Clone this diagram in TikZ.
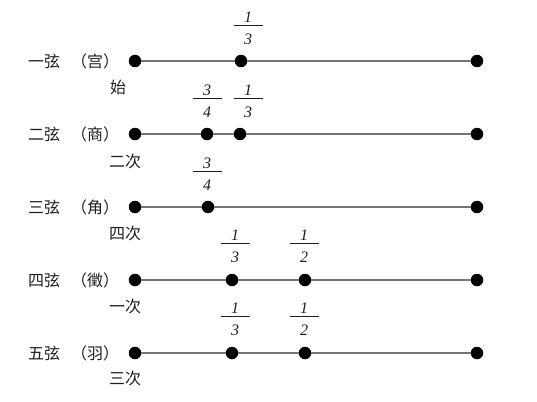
\documentclass[tikz,border=0pt]{standalone}
\usepackage{fontspec}
\setmainfont{Liberation Serif}
\newfontfamily\cjk{Noto Sans CJK SC}
\definecolor{wirec}{RGB}{115,115,115}
\definecolor{txtc}{RGB}{30,30,30}
\newcommand\myfrac[5]{%
  \node[fnum] (#1n) at (#2,#3-8) {#4};
  \node[fnum] (#1d) at (#2,#3+14) {#5};
  \coordinate (#1l) at (#2-14.5,#3);
  \coordinate (#1r) at (#2+14.5,#3);
  \draw[fbar] (#1l) -- (#1r);
}
\begin{document}
\begin{tikzpicture}[x=1pt,y=-1pt,
  dot/.style={circle,fill=black,inner sep=0pt,minimum size=12.5pt},
  wire/.style={draw=wirec,line width=1.8pt},
  fnum/.style={inner sep=0pt,font=\fontsize{16}{16}\selectfont\itshape,text=txtc},
  fbar/.style={draw=txtc,line width=0.9pt},
  lab/.style={inner sep=0pt,font=\fontsize{16}{16}\selectfont\cjk,text=txtc}]
\useasboundingbox (0,0) rectangle (537,401);
% rows
\foreach \r/\y in {1/61,2/134,3/207,4/280,5/353}{
  \node[dot] (r\r a) at (135,\y) {};
  \node[dot] (r\r z) at (477,\y) {};
}
\node[dot] (r1b) at (241,61) {};
\node[dot] (r2b) at (207,134) {};
\node[dot] (r2c) at (240,134) {};
\node[dot] (r3b) at (208,207) {};
\node[dot] (r4b) at (232,280) {};
\node[dot] (r4c) at (305,280) {};
\node[dot] (r5b) at (232,353) {};
\node[dot] (r5c) at (305,353) {};
\draw[wire] (r1a) -- (r1b) -- (r1z);
\draw[wire] (r2a) -- (r2b) -- (r2c) -- (r2z);
\draw[wire] (r3a) -- (r3b) -- (r3z);
\draw[wire] (r4a) -- (r4b) -- (r4c) -- (r4z);
\draw[wire] (r5a) -- (r5b) -- (r5c) -- (r5z);
% labels
\node[lab] (s1) at (44,61) {一弦};
\node[lab] (s2) at (44,134) {二弦};
\node[lab] (s3) at (44,207) {三弦};
\node[lab] (s4) at (44,280) {四弦};
\node[lab] (s5) at (44,353) {五弦};
\node[lab] (p1) at (95,61) {（宫）};
\node[lab] (p2) at (95,134) {（商）};
\node[lab] (p3) at (95,207) {（角）};
\node[lab] (p4) at (95,280) {（徵）};
\node[lab] (p5) at (95,353) {（羽）};
\node[lab] (o1) at (118,87) {始};
\node[lab] (o2) at (125,161) {二次};
\node[lab] (o3) at (125,233) {四次};
\node[lab] (o4) at (125,306) {一次};
\node[lab] (o5) at (125,378) {三次};
% fractions
\myfrac{fa}{248}{25}{1}{3}
\myfrac{fb}{207}{98}{3}{4}
\myfrac{fc}{248}{98}{1}{3}
\myfrac{fd}{207}{171}{3}{4}
\myfrac{fe}{235}{243}{1}{3}
\myfrac{ff}{304}{243}{1}{2}
\myfrac{fg}{235}{316}{1}{3}
\myfrac{fh}{304}{316}{1}{2}
\end{tikzpicture}
\end{document}
